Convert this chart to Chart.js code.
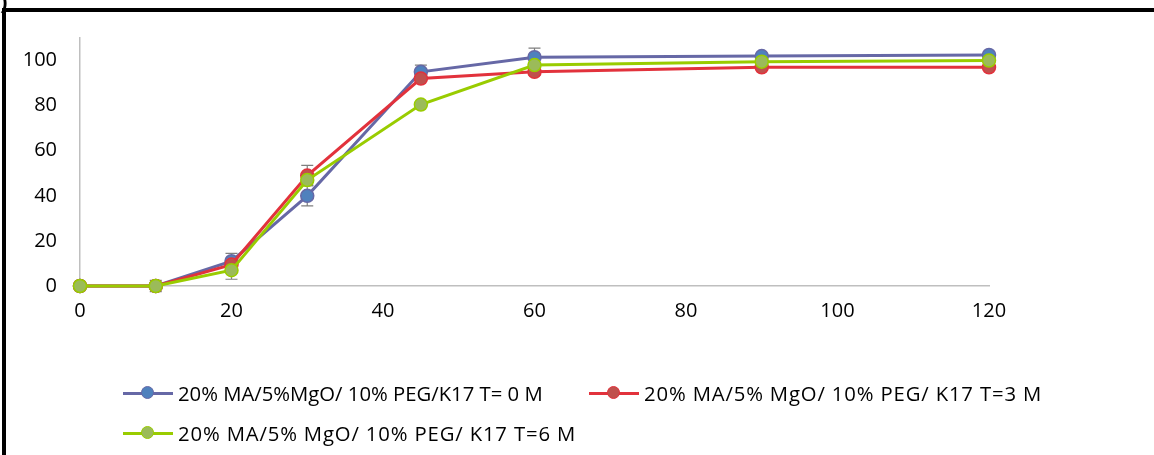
<!DOCTYPE html>
<html>
<head>
<meta charset="utf-8">
<script src="https://cdn.jsdelivr.net/npm/chart.js@4/dist/chart.umd.min.js"></script>
<style>
  html, body { margin: 0; padding: 0; background: #fff; }
  #wrap { position: relative; width: 1154px; height: 455px; overflow: hidden; font-family: "Open Sans", sans-serif; }
  #c { position: absolute; left: 0; top: 0; }
  #frame { position: absolute; left: 2px; top: 8px; width: 1200px; height: 500px; border-top: 4px solid #000; border-left: 4px solid #000; box-sizing: border-box; pointer-events: none; }
  #paren { position: absolute; left: 0px; top: -15px; font-size: 22px; font-weight: bold; color: #000; }
  .lg { position: absolute; display: flex; align-items: center; font-size: 20.3px; color: #000; white-space: nowrap; }
  .wide { letter-spacing: 0.85px; }
  .sw { position: relative; width: 50px; height: 14px; margin-right: 5px; }
  .sw .ln { position: absolute; left: 0; right: 0; top: 6px; height: 3px; }
  .sw .pt { position: absolute; left: 18px; top: 0px; width: 11px; height: 11px; border-radius: 50%; border-width: 1.5px; border-style: solid; }
</style>
</head>
<body>
<div id="wrap">
  <canvas id="c" width="1154" height="455"></canvas>
  <div id="frame"></div>
  <div id="paren">)</div>
  <div class="lg" style="left:123px; top:379px;">
    <div class="sw"><div class="ln" style="background:#6668A6"></div><div class="pt" style="background:#4F81BD;border-color:#6668A6"></div></div>
    <span id="l0"></span>
  </div>
  <div class="lg" style="left:589px; top:379px;">
    <div class="sw"><div class="ln" style="background:#E2323C"></div><div class="pt" style="background:#C0504D;border-color:#E2323C"></div></div>
    <span id="l1" class="wide"></span>
  </div>
  <div class="lg" style="left:123px; top:419px;">
    <div class="sw"><div class="ln" style="background:#99CC00"></div><div class="pt" style="background:#9BBB59;border-color:#99CC00"></div></div>
    <span id="l2" class="wide"></span>
  </div>
</div>
<script>
// ---- data ----
const timePoints = [0, 10, 20, 30, 45, 60, 90, 120];
const seriesNames = [
  "20% MA/5%MgO/ 10% PEG/K17 T= 0 M",
  "20% MA/5% MgO/ 10% PEG/ K17 T=3 M",
  "20% MA/5% MgO/ 10% PEG/ K17 T=6 M"
];
const t0Values = [0, 0, 11, 40, 95, 101.5, 102, 102.5];
const t3Values = [0, 0, 9.5, 49, 92, 95, 97, 97];
const t6Values = [0, 0, 7, 47, 80.5, 98, 99.5, 100];
const t0Errors = [0, 2.5, 3.5, 4.5, 3, 4, 0.5, 0.5];
const t3Errors = [0, 0, 1, 4.5, 1, 1.5, 0.5, 0.5];
const t6Errors = [0, 0, 4, 2, 0.5, 0.5, 0.5, 0.5];
const yTickValues = [0, 20, 40, 60, 80, 100];
const xTickValues = [0, 20, 40, 60, 80, 100, 120];

document.getElementById('l0').textContent = seriesNames[0];
document.getElementById('l1').textContent = seriesNames[1];
document.getElementById('l2').textContent = seriesNames[2];

const toXY = (vals) => vals.map((v, i) => ({ x: timePoints[i], y: v }));

const errorBars = {
  id: 'errorBars',
  beforeDatasetsDraw(chart) {
    const ctx = chart.ctx;
    const xs = chart.scales.x, ys = chart.scales.y;
    ctx.save();
    ctx.strokeStyle = '#7f7f7f';
    ctx.lineWidth = 1.2;
    chart.data.datasets.forEach(ds => {
      ds.errors.forEach((e, i) => {
        if (!e) return;
        const px = xs.getPixelForValue(timePoints[i]);
        const top = ys.getPixelForValue(ds.data[i].y + e);
        const bot = ys.getPixelForValue(ds.data[i].y - e);
        ctx.beginPath();
        ctx.moveTo(px, top); ctx.lineTo(px, bot);
        ctx.moveTo(px - 6, top); ctx.lineTo(px + 6, top);
        ctx.moveTo(px - 6, bot); ctx.lineTo(px + 6, bot);
        ctx.stroke();
      });
    });
    ctx.restore();
  }
};

const mk = (label, vals, errs, line, fill, order) => ({
  label, data: toXY(vals), errors: errs,
  borderColor: line, backgroundColor: fill,
  pointBackgroundColor: fill, pointBorderColor: line,
  pointRadius: 6.5, pointBorderWidth: 1.5, borderWidth: 3,
  tension: 0, order, clip: false
});

new Chart(document.getElementById('c'), {
  type: 'line',
  data: {
    datasets: [
      mk(seriesNames[0], t0Values, t0Errors, '#6668A6', '#4F81BD', 2),
      mk(seriesNames[1], t3Values, t3Errors, '#E2323C', '#C0504D', 1),
      mk(seriesNames[2], t6Values, t6Errors, '#99CC00', '#9BBB59', 0)
    ]
  },
  options: {
    responsive: false,
    animation: false,
    layout: { padding: { left: 0, right: 165, top: 38, bottom: 119 } },
    plugins: { legend: { display: false }, tooltip: { enabled: false } },
    scales: {
      x: {
        type: 'linear', min: 0, max: 120,
        afterBuildTicks: (a) => { a.ticks = xTickValues.map(v => ({ value: v })); },
        afterFit: (s) => { s.height = 50; },
        grid: { display: false, drawTicks: false },
        border: { display: true, color: '#bfbfbf', width: 1.5 },
        ticks: { color: '#000', font: { family: 'Open Sans', size: 20 }, padding: 13, maxRotation: 0 }
      },
      y: {
        min: 0, max: 110,
        afterBuildTicks: (a) => { a.ticks = yTickValues.map(v => ({ value: v })); },
        afterFit: (s) => { s.width = 80; },
        grid: { display: false, drawTicks: false },
        border: { display: true, color: '#bfbfbf', width: 1.5 },
        ticks: { color: '#000', font: { family: 'Open Sans', size: 20 }, padding: 23 }
      }
    }
  },
  plugins: [errorBars]
});
</script>
</body>
</html>
